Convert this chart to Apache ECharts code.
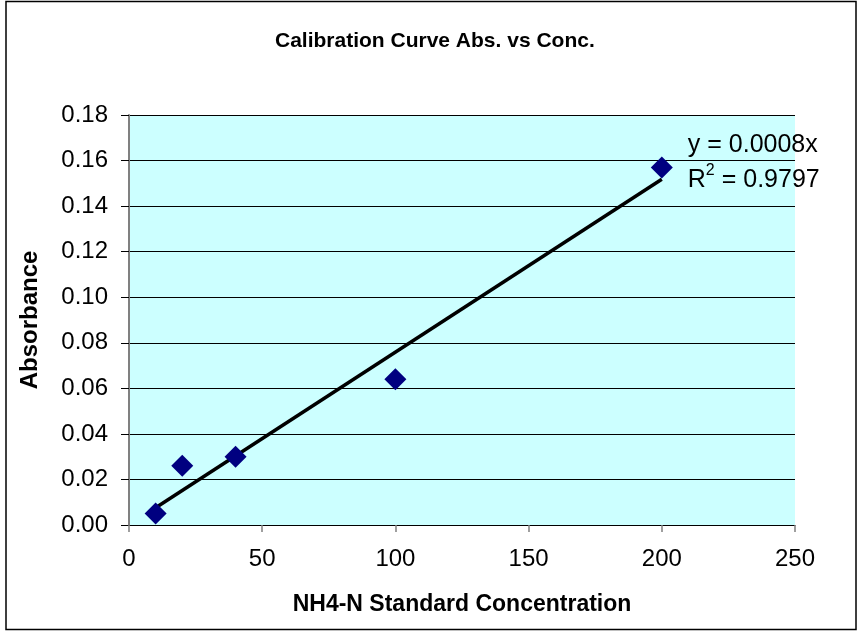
<!DOCTYPE html>
<html><head><meta charset="utf-8">
<script src="https://cdn.jsdelivr.net/npm/echarts@6/dist/echarts.min.js"></script>
<style>html,body{margin:0;padding:0;background:#fff}#c{width:859px;height:632px}</style>
</head><body><div id="c"></div>
<script>
var concentrations = [10, 20, 40, 100, 200];
var absorbance = [0.005, 0.026, 0.030, 0.064, 0.157];
var trendX = [10, 200];
var slope = 0.000759;
var titleText = 'Calibration Curve Abs. vs Conc.';
var xTitle = 'NH4-N Standard Concentration';
var yTitle = 'Absorbance';
var eqText = 'y = 0.0008x';
var r2Text = '0.9797';

var points = concentrations.map(function(x,i){return [x, absorbance[i]];});
var trend = trendX.map(function(x){return [x, slope*x];});
var font = '"Liberation Sans", Arial, sans-serif';
var chart = echarts.init(document.getElementById('c'));
chart.setOption({
  animation:false,
  backgroundColor:'#fff',
  title:{text:titleText,left:270,top:26,textStyle:{fontFamily:font,fontSize:21,fontWeight:'bold',color:'#000'}},
  graphic:[{type:'rect',shape:{x:6,y:1.5,width:850,height:628},style:{fill:null,stroke:'#000',lineWidth:1.5},z:-1}],
  grid:{left:129,right:64,top:115,bottom:107,show:true,backgroundColor:'#CCFFFF',borderWidth:0},
  xAxis:{type:'value',min:0,max:250,interval:50,
    name:xTitle,nameLocation:'middle',nameGap:68,
    nameTextStyle:{fontFamily:font,fontSize:23,fontWeight:'bold',color:'#000',verticalAlign:'top'},
    axisLine:{show:true,onZero:false,lineStyle:{color:'#000',width:1}},
    axisTick:{show:true,length:7,lineStyle:{color:'#808080',width:1.5}},
    axisLabel:{fontFamily:font,fontSize:24,color:'#000',margin:22},
    splitLine:{show:false}},
  yAxis:{type:'value',min:0,max:0.18,interval:0.02,
    name:yTitle,nameLocation:'middle',nameGap:87,
    nameTextStyle:{fontFamily:font,fontSize:24,fontWeight:'bold',color:'#000'},
    axisLine:{show:true,onZero:false,lineStyle:{color:'#808080',width:2}},
    axisTick:{show:true,length:8,lineStyle:{color:'#000'}},
    axisLabel:{fontFamily:font,fontSize:24,color:'#000',margin:21,formatter:function(v){return v.toFixed(2);}},
    splitLine:{show:true,lineStyle:{color:'#000',width:1}}},
  series:[
    {type:'line',data:trend,symbol:'none',lineStyle:{color:'#000',width:3.5},z:2,
     endLabel:{show:true,formatter:'{a|'+eqText+'}\n{a|R}{s|2}{a| = '+r2Text+'}',offset:[18,-17],
       rich:{a:{fontFamily:font,fontSize:25,color:'#000',lineHeight:35},s:{fontFamily:font,fontSize:16,color:'#000',verticalAlign:'top',lineHeight:18,padding:[0,0,6,0]}}}},
    {type:'scatter',data:points,symbol:'diamond',symbolSize:[22,22],itemStyle:{color:'#000080',opacity:1},z:3}
  ]
});
</script></body></html>
